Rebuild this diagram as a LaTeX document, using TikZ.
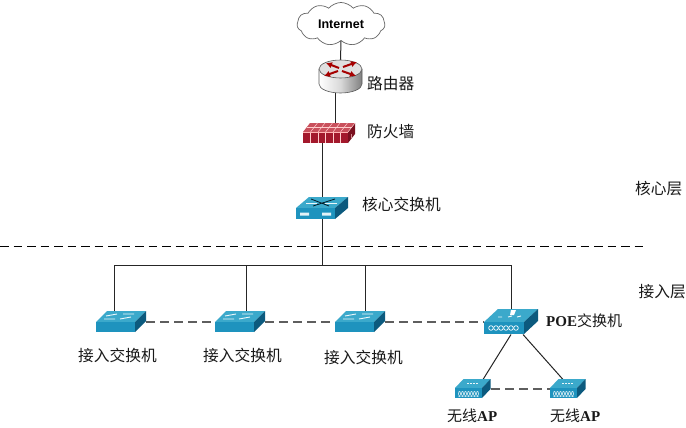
\documentclass[tikz,border=0pt]{standalone}
\usepackage{fontspec}
\setmainfont{Liberation Serif}
\newfontfamily\cjk{Noto Sans CJK SC}
\newfontfamily\hv{Liberation Sans}
\usetikzlibrary{shapes.symbols,calc,arrows.meta}
\definecolor{swfront}{HTML}{1E93BE}
\definecolor{swtop}{HTML}{3BA9CB}
\definecolor{swside}{HTML}{0C5A7E}
\definecolor{fwfront}{HTML}{A3182C}
\definecolor{fwtop}{HTML}{C9505C}
\definecolor{fwside}{HTML}{7A1020}
\definecolor{dashgrey}{HTML}{5E5E5E}
\newcommand{\IsoBox}[9]{% x, y, w, h, dx, dy, front, top, side
  \fill[#8] (#1,#2) -- ++(#5,-#6) -- ++(#3,0) -- ++(-#5,#6) -- cycle;
  \fill[#9] (#1+#3,#2) -- ++(#5,-#6) -- ++(0,#4) -- ++(-#5,#6) -- cycle;
  \fill[#7] (#1,#2) rectangle ++(#3,#4);
}
\tikzset{
  anchorbox/.style={inner sep=0pt,outer sep=0pt,minimum width=#1},
  link/.style={draw=black!85,line width=1pt},
  peerlink/.style={color=dashgrey,line width=2pt,dash pattern=on 9pt off 5pt},
  layerline/.style={draw=black,line width=0.9pt,dash pattern=on 8.5pt off 5pt},
  cn/.style={font=\cjk\fontsize{15.7}{17}\selectfont,text=black!90,inner sep=0pt},
  mixed/.style={font=\bfseries\fontsize{15}{17}\selectfont,text=black!90,inner sep=0pt},
  wht/.style={draw=white!90!swtop,line width=0.9pt},
}
\begin{document}
\begin{tikzpicture}[x=1pt,y=-1pt]
\useasboundingbox (0,0) rectangle (686,428);
\fill[white] (0,0) rectangle (686,428);
% anchor nodes
\node[cloud,cloud puffs=11,cloud puff arc=100,aspect=2.2,draw=black!60,line width=0.7pt,fill=white,minimum width=88pt,minimum height=43pt,inner sep=0pt,font=\hv\bfseries\fontsize{12.5}{14}\selectfont] (inet) at (341,24) {Internet};
\node[anchorbox=43pt,minimum height=33pt] (router) at (340.5,76.5) {};
\node[anchorbox=52pt,minimum height=20pt] (fw) at (329,133) {};
\node[anchorbox=51pt,minimum height=22pt] (core) at (321.5,208) {};
\node[anchorbox=50pt,minimum height=21pt] (acc1) at (121,322) {};
\node[anchorbox=50pt,minimum height=21pt] (acc2) at (240,322) {};
\node[anchorbox=50pt,minimum height=21pt] (acc3) at (360,322) {};
\node[anchorbox=54pt,minimum height=25pt] (poe) at (511,322) {};
\node[anchorbox=36pt,minimum height=19pt] (ap1) at (473,389) {};
\node[anchorbox=35pt,minimum height=19pt] (ap2) at (567.5,389) {};
\coordinate (busJ) at (322,265);
\coordinate (layerL) at (0,246);
\coordinate (layerR) at (645,246);
% connectors
\draw[link] (inet.south) -- (router.north);
\draw[link] ([xshift=-5.5pt]router.south) -- ([xshift=6pt]fw.north);
\draw[link] ([xshift=-7pt]fw.south) -- ([xshift=0.5pt]core.north);
\draw[link] ([xshift=0.5pt]core.south) -- (busJ);
\draw[link] ([xshift=-7pt]acc1.north) |- (busJ);
\draw[link] ([xshift=6.7pt]acc2.north) |- (busJ);
\draw[link] ([xshift=5pt]acc3.north) |- (busJ);
\draw[link] (poe.north) |- (busJ);
\draw[link] (poe.south) -- ([xshift=10pt]ap1.north);
\draw[link] ([xshift=12pt]poe.south) -- ([xshift=-4.5pt]ap2.north);
\draw[peerlink] (acc1.east) -- (acc2.west);
\draw[peerlink] (acc2.east) -- (acc3.west);
\draw[peerlink] (acc3.east) -- (poe.west);
\draw[peerlink] (ap1.east) -- (ap2.west);
\draw[layerline] (layerL) -- (layerR);
% router
\shade[left color=white,right color=black!50,middle color=black!15] (319,69) -- (319,84) arc[start angle=180,end angle=0,x radius=21.5,y radius=9] -- (362,69) -- cycle;
\draw[black!65,line width=0.6pt] (319,69) -- (319,84) arc[start angle=180,end angle=0,x radius=21.5,y radius=9] -- (362,69);
\fill[black!12,draw=black!65,line width=0.6pt] (340.5,69) ellipse[x radius=21.5,y radius=9];
\begin{scope}[draw=red!65!black,line width=2pt,-{Latex[length=6pt,width=6.5pt]}]
\draw (339,68) -- (326,63);
\draw (342,71) -- (356,76);
\draw (343,67) -- (357,62);
\draw (338,71) -- (324,76);
\end{scope}
% firewall
\IsoBox{303}{132}{45}{11}{7}{9}{fwfront}{fwtop}{fwside}
\foreach \i in {1,...,5} {
  \draw[white!80!red,line width=0.5pt] ({303+7.5*\i},132) -- ++(0,11);
  \draw[white!80!red,line width=0.5pt] ({303+7.5*\i},132) -- ++(7,-9);
}
\draw[white!80!red,line width=0.5pt] (306.5,127.5) -- ++(45,0);
\draw[white!80!red,line width=0.5pt] (348,132) -- ++(7,-9) (351.5,134) -- ++(0,4);
\draw[white!70!red,line width=0.4pt] (303,132) -- (348,132);
% core switch
\IsoBox{296}{208}{39}{11}{13}{11}{swfront}{swtop}{swside}
\fill[white!85!swtop] (300,212.5) rectangle ++(9,3) (322,212.5) rectangle ++(9,3);
\draw[black!70!swside,line width=0.8pt] (311,199) -- (329,206) (335,199) -- (313,206);
\draw[wht] (306,203) -- (317,203) (325,203) -- (337,203);
% access switches
\foreach \x in {96,215,335} {
  \IsoBox{\x}{322}{39}{10}{11}{11}{swfront}{swtop}{swside}
  \draw[wht] ({\x+10},316) -- ++(11,-2) ({\x+27},314) -- ++(11,0) ({\x+8},319) -- ++(11,0) ({\x+24},319) -- ++(11,-2);
}
% POE
\IsoBox{484}{322}{40}{12}{14}{13}{swfront}{swtop}{swside}
\draw[wht] (498,317) -- ++(4,0) (508,317) -- ++(4,-1) (517,317) -- ++(4,-1);
\fill[white] (511,310) -- (516,310) -- (514,315) -- (510,315) -- cycle;
\foreach \i in {0,...,5} \draw[white,line width=0.7pt] ({491+5*\i},328) circle[radius=2.3];
% APs
\foreach \x in {455,550} {
  \IsoBox{\x}{388}{27}{10}{8.5}{9}{swfront}{swtop}{swside}
  \fill[white!75!swfront] ({\x+3},390.5) rectangle ++(21,6.5);
  \foreach \i in {0,...,6} \draw[swfront,line width=0.5pt] ({\x+3+3*\i},390.5) -- ++(3,6.5) ({\x+6+3*\i},390.5) -- ++(-3,6.5);
  \draw[wht,line width=0.7pt,dash pattern=on 2pt off 1pt] ({\x+12},383.5) -- ++(12,0);
}
% labels
\node[cn,anchor=west] (lrouter) at (367,84) {路由器};
\node[cn,anchor=west] (lfw) at (367,132) {防火墙};
\node[cn,anchor=west] (lcore) at (362,204) {核心交换机};
\node[cn,anchor=west] (lcorel) at (635,189) {核心层};
\node[cn,anchor=west] (laccl) at (638.5,292) {接入层};
\node[cn,anchor=west] (lacc1) at (78,355) {接入交换机};
\node[cn,anchor=west] (lacc2) at (203,355) {接入交换机};
\node[cn,anchor=west] (lacc3) at (324,357) {接入交换机};
\node[mixed,anchor=west] (lpoe) at (546,321) {POE{\cjk\mdseries 交换机}};
\node[mixed,anchor=west] (lap1) at (447,416) {{\cjk\mdseries 无线}AP};
\node[mixed,anchor=west] (lap2) at (550,416) {{\cjk\mdseries 无线}AP};
\end{tikzpicture}
\end{document}
